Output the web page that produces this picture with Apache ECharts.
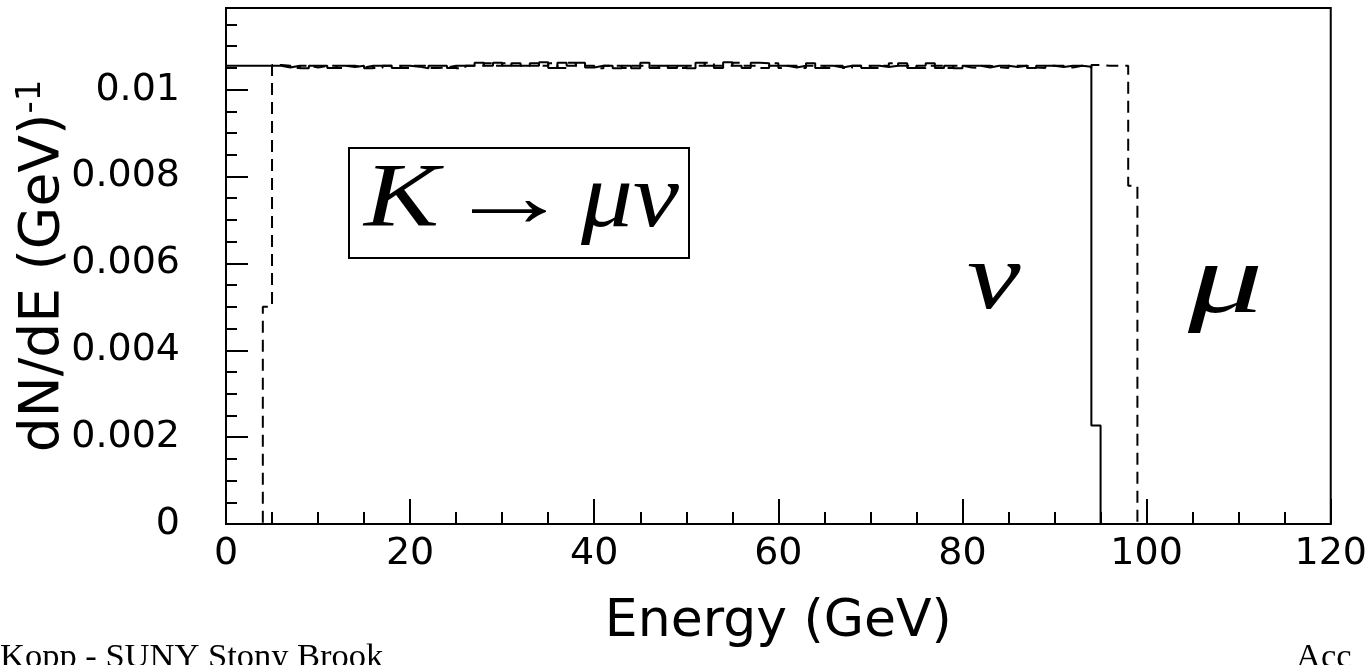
<!DOCTYPE html>
<html>
<head>
<meta charset="utf-8">
<script src="https://cdn.jsdelivr.net/npm/echarts@6/dist/echarts.min.js"></script>
<style>
  html, body { margin: 0; padding: 0; background: #fff; }
  #chart { width: 1370px; height: 665px; }
</style>
</head>
<body>
<div id="chart"></div>
<script>
// Energy histogram: 120 bins of 1 GeV between 0 and 120 GeV
const energyRange = [0, 120];
const binWidthGeV = 1;

// Neutrino spectrum (solid line), dN/dE per bin
const nuCounts = [
  0.01055,0.01055,0.01055,0.01055,0.01055,0.01055,0.01051,0.01055,0.01049,0.01055,
  0.01055,0.01050,0.01055,0.01052,0.01055,0.01049,0.01055,0.01055,0.01050,0.01055,
  0.01053,0.01049,0.01055,0.01055,0.01050,0.01055,0.01055,0.01062,0.01055,0.01062,
  0.01055,0.01061,0.01055,0.01055,0.01063,0.01050,0.01062,0.01055,0.01062,0.01051,
  0.01055,0.01055,0.01049,0.01055,0.01049,0.01062,0.01050,0.01055,0.01050,0.01055,
  0.01049,0.01062,0.01055,0.01050,0.01063,0.01055,0.01050,0.01062,0.01061,0.01055,
  0.01055,0.01051,0.01055,0.01061,0.01050,0.01055,0.01051,0.01055,0.01055,0.01050,
  0.01055,0.01052,0.01055,0.01061,0.01050,0.01055,0.01061,0.01050,0.01055,0.01049,
  0.01055,0.01055,0.01051,0.01055,0.01055,0.01052,0.01055,0.01050,0.01055,0.01055,
  0.01052,0.01055,0.01055,0.01053,0.00227,0,0,0,0,0,
  0,0,0,0,0,0,0,0,0,0,
  0,0,0,0,0,0,0,0,0,0
];

// Muon spectrum (dashed line), dN/dE per bin
const muCounts = [
  0,0,0,0,0.00500,0.01057,0.01055,0.01050,0.01055,0.01051,
  0.01055,0.01055,0.01050,0.01055,0.01051,0.01055,0.01050,0.01055,0.01055,0.01050,
  0.01055,0.01055,0.01050,0.01051,0.01055,0.01049,0.01055,0.01055,0.01061,0.01055,
  0.01061,0.01055,0.01055,0.01061,0.01055,0.01061,0.01050,0.01062,0.01055,0.01055,
  0.01049,0.01055,0.01055,0.01050,0.01055,0.01055,0.01055,0.01050,0.01055,0.01050,
  0.01055,0.01055,0.01062,0.01055,0.01055,0.01062,0.01055,0.01055,0.01050,0.01061,
  0.01050,0.01055,0.01050,0.01055,0.01055,0.01050,0.01055,0.01050,0.01055,0.01055,
  0.01050,0.01055,0.01061,0.01055,0.01055,0.01050,0.01055,0.01055,0.01050,0.01055,
  0.01051,0.01050,0.01055,0.01052,0.01050,0.01055,0.01055,0.01051,0.01050,0.01055,
  0.01055,0.01051,0.01055,0.01051,0.01057,0.01055,0.01055,0.01055,0.00779,0,
  0,0,0,0,0,0,0,0,0,0,
  0,0,0,0,0,0,0,0,0,0
];

// Axis tick labels
const xTickLabels = ['0', '20', '40', '60', '80', '100', '120'];
const yTickLabels = ['0', '0.002', '0.004', '0.006', '0.008', '0.01'];
const yAxisTop = 0.01188;

// Turn per-bin contents into step-line points at the bin edges
function histPoints(counts) {
  const pts = counts.map((v, i) => [energyRange[0] + i * binWidthGeV, v]);
  pts.push([energyRange[0] + counts.length * binWidthGeV, counts[counts.length - 1]]);
  return pts;
}

const black = '#000';
const tickFont = 'DejaVu Sans';
const xStep = Number(xTickLabels[1]) - Number(xTickLabels[0]);
const yStep = Number(yTickLabels[1]) - Number(yTickLabels[0]);

const chart = echarts.init(document.getElementById('chart'), null, { renderer: 'canvas' });

chart.setOption({
  animation: false,
  backgroundColor: '#fff',
  grid: {
    left: 226, right: 39, top: 8, bottom: 141,
    show: true, borderColor: black, borderWidth: 2, backgroundColor: 'transparent'
  },
  xAxis: {
    type: 'value',
    min: Number(xTickLabels[0]),
    max: Number(xTickLabels[xTickLabels.length - 1]),
    interval: xStep,
    name: 'Energy (GeV)',
    nameLocation: 'middle',
    nameGap: 72,
    nameTextStyle: { color: black, fontFamily: tickFont, fontSize: 52 },
    axisLine: { onZero: false, lineStyle: { color: black, width: 2 } },
    axisTick: { inside: true, length: 25, lineStyle: { color: black, width: 2 } },
    minorTick: { show: true, splitNumber: 4, length: 12, lineStyle: { color: black, width: 2 } },
    splitLine: { show: false },
    minorSplitLine: { show: false },
    axisLabel: {
      color: black, fontFamily: tickFont, fontSize: 38, margin: 11,
      formatter: v => xTickLabels[Math.round((v - Number(xTickLabels[0])) / xStep)]
    }
  },
  yAxis: {
    type: 'value',
    min: 0,
    max: yAxisTop,
    interval: yStep,
    axisLine: { onZero: false, lineStyle: { color: black, width: 2 } },
    axisTick: { inside: true, length: 22, lineStyle: { color: black, width: 2 } },
    minorTick: { show: true, splitNumber: 4, length: 11, lineStyle: { color: black, width: 2 } },
    splitLine: { show: false },
    minorSplitLine: { show: false },
    axisLabel: {
      color: black, fontFamily: tickFont, fontSize: 38, margin: 46,
      showMaxLabel: false,
      formatter: v => {
        const k = Math.round(v / yStep);
        return yTickLabels[k] !== undefined ? yTickLabels[k] : '';
      }
    }
  },
  series: [
    {
      name: 'μ',
      type: 'line',
      step: 'end',
      symbol: 'none',
      z: 2,
      lineStyle: { color: black, width: 2, type: [12, 7] },
      data: histPoints(muCounts)
    },
    {
      name: 'ν',
      type: 'line',
      step: 'end',
      symbol: 'none',
      z: 3,
      lineStyle: { color: black, width: 2, type: 'solid' },
      data: histPoints(nuCounts)
    }
  ],
  graphic: [
    // y-axis title, reading bottom to top, with the -1 exponent
    {
      type: 'text', x: 44, y: 266, rotation: Math.PI / 2,
      style: {
        text: '{m|dN/dE (GeV)}{s|-1}',
        align: 'center', verticalAlign: 'middle', fill: black,
        rich: {
          m: { fontFamily: tickFont, fontSize: 55, lineHeight: 60, fill: black },
          s: { fontFamily: tickFont, fontSize: 34, lineHeight: 18, verticalAlign: 'top', fill: black }
        }
      }
    },
    // decay-channel box
    {
      type: 'rect', shape: { x: 349, y: 148, width: 340, height: 110 },
      style: { fill: 'none', stroke: black, lineWidth: 2 }
    },
    {
      type: 'text', x: 364, y: 202, scaleX: 1.25,
      style: { text: 'K', font: 'italic 90px "Liberation Serif"', fill: black, align: 'left', verticalAlign: 'middle' }
    },
    {
      type: 'text', x: 509, y: 203, scaleX: 1.42,
      style: { text: '→', font: '88px "Liberation Serif"', fill: black, align: 'center', verticalAlign: 'middle' }
    },
    {
      type: 'text', x: 581, y: 202, scaleX: 1.15,
      style: { text: 'μν', font: 'italic 90px "Liberation Serif"', fill: black, align: 'left', verticalAlign: 'middle' }
    },
    // curve labels
    {
      type: 'text', x: 967, y: 283, scaleX: 1.27,
      style: { text: 'ν', font: 'italic 95px "Liberation Serif"', fill: black, align: 'left', verticalAlign: 'middle' }
    },
    {
      type: 'text', x: 1188, y: 286, scaleX: 1.5,
      style: { text: 'μ', font: 'italic 100px "Liberation Serif"', fill: black, align: 'left', verticalAlign: 'middle' }
    },
    // footer
    {
      type: 'text', x: 0, y: 658,
      style: { text: 'Kopp - SUNY Stony Brook', font: '34.5px "Liberation Serif"', fill: black, align: 'left', verticalAlign: 'middle' }
    },
    {
      type: 'text', x: 1296, y: 658,
      style: { text: 'Acc', font: '34.5px "Liberation Serif"', fill: black, align: 'left', verticalAlign: 'middle' }
    }
  ]
});
</script>
</body>
</html>
